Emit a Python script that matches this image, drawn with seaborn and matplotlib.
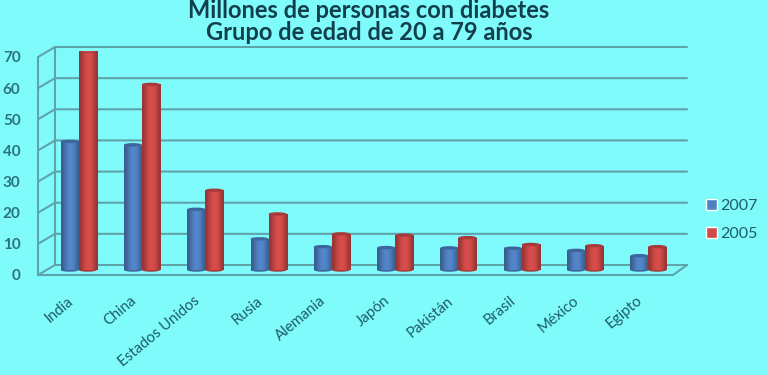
import numpy as np
import pandas as pd
import seaborn as sns
import matplotlib.pyplot as plt
from matplotlib.colors import to_rgb
from matplotlib.lines import Line2D
from matplotlib.patches import Ellipse, Rectangle
from matplotlib.transforms import Affine2D, IdentityTransform

countries = ['India', 'China', 'Estados Unidos', 'Rusia', 'Alemania', 'Japón',
             'Pakistán', 'Brasil', 'México', 'Egipto']
vals_2007 = [41.3, 40.2, 19.5, 10, 7.5, 7.2, 7.1, 7, 6.3, 4.6]
vals_2005 = [70.2, 59.6, 25.6, 18, 11.6, 11.2, 10.4, 8.2, 7.8, 7.5]
y_ticks = [0, 10, 20, 30, 40, 50, 60, 70]
title_lines = ['Millones de personas con diabetes', 'Grupo de edad de 20 a 79 años']

bg = '#7ffbfb'
grid_col = '#5fa3ab'
txt_col = '#1d5c68'
blue = '#4f80c2'
red = '#cf4a48'

W, H = 768, 375
sns.set_style('white')
plt.rcParams['font.family'] = ['Lato', 'DejaVu Sans']

df = pd.DataFrame({'pais': countries * 2,
                   'valor': vals_2007 + vals_2005,
                   'serie': ['2007'] * 10 + ['2005'] * 10})

fig = plt.figure(figsize=(W / 100, H / 100), dpi=100, facecolor=bg)
# axes box: 47..680 px across, 52..270 px from the top
ax = fig.add_axes([47 / W, 1 - 270 / H, 633 / W, 218 / H])
ax.patch.set_visible(False)
sns.barplot(data=df, x='pais', y='valor', hue='serie', hue_order=['2007', '2005'],
            palette=[blue, red], width=0.57, gap=0, saturation=1, legend=False, ax=ax)
ax.set_xlim(-0.5, 9.5)
ax.set_ylim(0, 70)
sns.despine(ax=ax, left=True, bottom=True)
ax.set_xlabel('')
ax.set_ylabel('')


def wall(xs, ys):
    fig.add_artist(Line2D(xs, [H - y for y in ys], color=grid_col, lw=1.5,
                          transform=IdentityTransform(), zorder=-1))


# gridlines on the back wall, floor and left wall
for v in y_ticks:
    ypx = H - ax.transData.transform((0, v))[1]
    wall([38, 55, 687], [ypx + 5, ypx - 5, ypx - 5])
wall([38, 38], [H - ax.transData.transform((0, 70))[1] + 5, 275])
wall([55, 55], [47, 265])
wall([38, 673, 687], [275, 275, 265])

# cylinder shading on every bar
shade = np.array([0.72, 0.92, 1.05, 1.05, 0.95, 0.72]).reshape(1, -1, 1)
patches = [p for p in ax.patches if p.get_height() > 0]
for p in patches:
    col = np.array(to_rgb(p.get_facecolor()))
    grad = np.clip(shade * col.reshape(1, 1, 3), 0, 1)
    x0, w, h = p.get_x(), p.get_width(), p.get_height()
    p.set_visible(False)
    rect = Rectangle((x0, 0), w, h, transform=ax.transData, fc='none', ec='none')
    ax.add_patch(rect)
    im = ax.imshow(grad, extent=(x0, x0 + w, 0, h), aspect='auto', interpolation='bicubic', zorder=3)
    im.set_clip_path(rect)
    ax.add_patch(Ellipse((x0 + w / 2, h), w, 1.1, fc=col * 0.8, ec='none', zorder=4))
    ax.add_patch(Ellipse((x0 + w / 2, 0), w, 1.1, fc=col * 0.8, ec='none', zorder=2.5, clip_on=False))
ax.set_xlim(-0.5, 9.5)
ax.set_ylim(0, 70)

# tick labels: y ones sit at the front of the left wall
ax.set_yticks(y_ticks)
ax.set_yticklabels([str(v) for v in y_ticks], color=txt_col, fontsize=11, fontweight='bold',
                   alpha=0.85)
ax.tick_params(axis='y', length=0, pad=19)
for lab in ax.get_yticklabels():
    lab.set_transform(lab.get_transform() + Affine2D().translate(0, -5))
ax.set_xticks(range(10))
ax.set_xticklabels(countries, rotation=40, ha='right', rotation_mode='anchor',
                   color=txt_col, fontsize=10.7)
ax.tick_params(axis='x', length=0, pad=17)
for lab in ax.get_xticklabels():
    lab.set_transform(lab.get_transform() + Affine2D().translate(-12, 0))

fig.text(369 / W, 1 - 10 / H, title_lines[0], ha='center', va='center', fontsize=17,
         fontweight='bold', color='#123f4c')
fig.text(369 / W, 1 - 33 / H, title_lines[1], ha='center', va='center', fontsize=17,
         fontweight='bold', color='#123f4c')

# legend
handles = [plt.Rectangle((0, 0), 1, 1, fc=blue), plt.Rectangle((0, 0), 1, 1, fc=red)]
fig.legend(handles, ['2007', '2005'], loc='center left', bbox_to_anchor=(706 / W, 1 - 220 / H),
           frameon=False, fontsize=11.5, labelcolor=txt_col, handlelength=0.7, handleheight=0.7,
           handletextpad=0.2, labelspacing=0.85, borderpad=0, borderaxespad=0)

fig.savefig('out.png', dpi=100, facecolor=bg)
